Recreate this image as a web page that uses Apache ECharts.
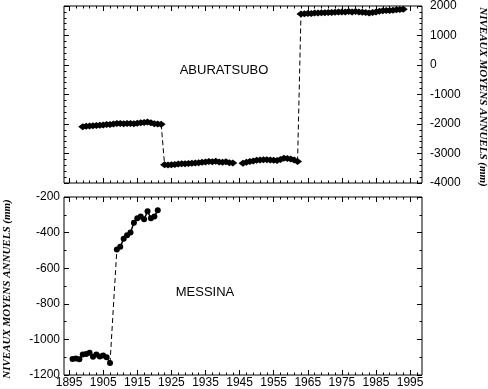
<!DOCTYPE html>
<html>
<head>
<meta charset="utf-8">
<script src="https://cdn.jsdelivr.net/npm/echarts@6/dist/echarts.min.js"></script>
<style>
  html, body { margin: 0; padding: 0; background: #fff; }
  #chart { width: 488px; height: 389px; }
</style>
</head>
<body>
<div id="chart"></div>
<script>
// ABURATSUBO annual means (mm), one array per segment, first year of each segment
var aburaStart = [1899, 1923, 1946, 1963];
var aburaSeg1 = [-2090, -2080, -2070, -2060, -2055, -2040, -2030, -2020, -2015, -2000, -1985, -1980,
    -1990, -1980, -1985, -1990, -1975, -1960, -1950, -1935, -1960, -1990, -2000, -2010];
var aburaSeg2 = [-3380, -3390, -3380, -3370, -3360, -3350, -3350, -3340, -3330, -3320, -3310,
    -3300, -3290, -3270, -3280, -3260, -3290, -3300, -3280, -3310, -3320];
var aburaSeg3 = [-3330, -3300, -3270, -3250, -3230, -3220, -3210, -3210, -3220, -3230, -3240,
    -3200, -3160, -3170, -3190, -3220, -3270];
var aburaSeg4 = [1730, 1740, 1750, 1750, 1760, 1760, 1770, 1770, 1780, 1780, 1790, 1800, 1800,
    1800, 1810, 1800, 1810, 1800, 1790, 1780, 1760, 1780, 1800, 1820, 1840, 1850, 1850, 1860,
    1870, 1880, 1890];

// MESSINA annual means (mm)
var messinaStart = [1896, 1909];
var messinaSeg1 = [-1110, -1108, -1112, -1085, -1082, -1075, -1098, -1085, -1096, -1090, -1100, -1132];
var messinaSeg2 = [-495, -480, -435, -415, -400, -345, -320, -310, -325, -280, -320, -310, -275];

// tick labels
var yearTicks = [1895, 1905, 1915, 1925, 1935, 1945, 1955, 1965, 1975, 1985, 1995];
var xMin = 1893.5, xMax = 1998.5;

var minorYears = [];
yearTicks.forEach(function (y) {
    [2, 4, 6, 8].forEach(function (d) {
        if (y + d < xMax) minorYears.push(y + d);
    });
});

function pairs(start, vals) {
    return vals.map(function (v, i) { return [start + i, v]; });
}

var aburaSegs = [aburaSeg1, aburaSeg2, aburaSeg3, aburaSeg4].map(function (s, i) {
    return pairs(aburaStart[i], s);
});
var messinaSegs = [messinaSeg1, messinaSeg2].map(function (s, i) {
    return pairs(messinaStart[i], s);
});

var FONT = 'Liberation Sans';
var plain = function (v) { return String(v); };

function xAxes(grid, showLabels) {
    var list = [];
    ['bottom', 'top'].forEach(function (pos) {
        list.push({
            type: 'value', gridIndex: grid, position: pos, min: xMin, max: xMax,
            axisLine: { show: false, onZero: false }, splitLine: { show: false },
            axisTick: { show: true, inside: true, length: 5, customValues: yearTicks,
                lineStyle: { color: '#000' } },
            axisLabel: { show: showLabels && pos === 'bottom', customValues: yearTicks,
                formatter: plain, color: '#000', fontSize: 12, fontFamily: FONT, margin: 2 }
        });
        list.push({
            type: 'value', gridIndex: grid, position: pos, min: xMin, max: xMax,
            axisLine: { show: false, onZero: false }, splitLine: { show: false },
            axisTick: { show: true, inside: true, length: 2.5, customValues: minorYears,
                lineStyle: { color: '#000' } },
            axisLabel: { show: false }
        });
    });
    return list;
}

function yAxes(grid, min, max, interval, split, labelSide) {
    return ['left', 'right'].map(function (pos) {
        return {
            type: 'value', gridIndex: grid, position: pos, min: min, max: max, interval: interval,
            axisLine: { show: false, onZero: false }, splitLine: { show: false },
            axisTick: { show: true, inside: true, length: 5, lineStyle: { color: '#000' } },
            minorTick: { show: true, splitNumber: split, length: 2.5, lineStyle: { color: '#000' } },
            axisLabel: { show: pos === labelSide, formatter: plain, color: '#000', fontSize: 12,
                fontFamily: FONT, margin: pos === 'right' ? 8 : 4 }
        };
    });
}

var series = [];

function addPanel(segs, jumps, xIdx, yIdx, symbol, size) {
    jumps.forEach(function (j) {
        var a = segs[j], b = segs[j + 1];
        series.push({
            type: 'line', xAxisIndex: xIdx, yAxisIndex: yIdx, symbol: 'none', z: 1,
            data: [a[a.length - 1], b[0]],
            lineStyle: { color: '#000', width: 1, type: [5, 3] }, silent: true
        });
    });
    segs.forEach(function (s) {
        series.push({
            type: 'line', xAxisIndex: xIdx, yAxisIndex: yIdx, data: s, z: 2,
            symbol: symbol, symbolSize: size, showSymbol: true,
            itemStyle: { color: '#000' },
            lineStyle: { color: '#000', width: 1.5 }
        });
    });
}

addPanel(aburaSegs, [0, 2], 0, 0, 'diamond', [9, 7]);
addPanel(messinaSegs, [0], 4, 2, 'circle', 6);

var titleStyle = {
    text: 'NIVEAUX MOYENS ANNUELS (mm)', fill: '#000', fontSize: 11, fontWeight: 'bold',
    fontStyle: 'italic', fontFamily: 'Liberation Serif', align: 'center', verticalAlign: 'middle'
};

var chart = echarts.init(document.getElementById('chart'), null, { renderer: 'canvas' });
chart.setOption({
    backgroundColor: '#fff',
    animation: false,
    grid: [
        { left: 64, top: 4, width: 358, height: 179, show: true, borderColor: '#000', borderWidth: 1 },
        { left: 64, top: 197, width: 358, height: 181, show: true, borderColor: '#000', borderWidth: 1 }
    ],
    xAxis: xAxes(0, false).concat(xAxes(1, true)),
    yAxis: yAxes(0, -4000, 2000, 1000, 5, 'right').concat(yAxes(1, -1200, -200, 200, 2, 'left')),
    series: series,
    graphic: [
        { type: 'text', x: 224, y: 70, style: { text: 'ABURATSUBO', fill: '#000', fontSize: 13,
            fontFamily: FONT, align: 'center', verticalAlign: 'middle' } },
        { type: 'text', x: 205, y: 292, style: { text: 'MESSINA', fill: '#000', fontSize: 13,
            fontFamily: FONT, align: 'center', verticalAlign: 'middle' } },
        { type: 'text', x: 483, y: 97, rotation: -Math.PI / 2, style: titleStyle },
        { type: 'text', x: 7, y: 289, rotation: Math.PI / 2, style: titleStyle }
    ]
});
</script>
</body>
</html>
